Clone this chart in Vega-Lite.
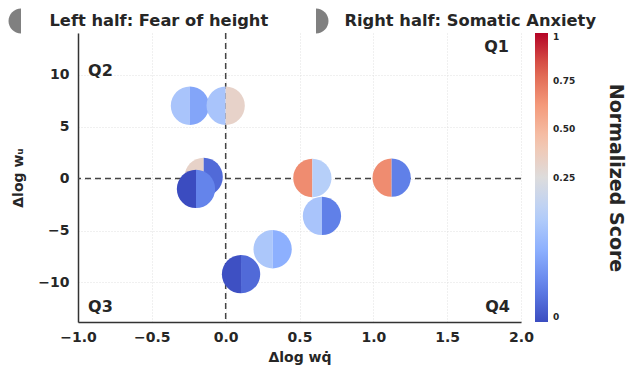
{
  "$schema": "https://vega.github.io/schema/vega-lite/v6.json",
  "width": 443,
  "height": 289,
  "autosize": {"type": "none"},
  "padding": {"left": 78, "top": 33, "right": 106, "bottom": 46},
  "background": "white",
  "config": {
    "view": {"stroke": null},
    "font": "DejaVu Sans",
    "axis": {
      "labelFont": "DejaVu Sans",
      "labelFontSize": 14,
      "labelFontWeight": "bold",
      "labelColor": "#262626",
      "labelFlush": false,
      "titleFont": "DejaVu Sans",
      "titleFontSize": 14,
      "titleFontWeight": "bold",
      "titleColor": "#262626",
      "domainColor": "#333333",
      "domainWidth": 1.5,
      "ticks": false,
      "tickSize": 0,
      "grid": true,
      "gridColor": "#d9d9d9",
      "gridDash": [1, 2],
      "gridWidth": 0.8
    }
  },
  "layer": [
    {
      "data": {"values": [{"x": 0}]},
      "mark": {"type": "rule", "color": "#444444", "strokeDash": [6, 4], "strokeWidth": 1.5},
      "encoding": {"x": {"field": "x", "type": "quantitative", "title": "Δlog wq̇"}}
    },
    {
      "data": {"values": [{"y": 0}]},
      "mark": {"type": "rule", "color": "#444444", "strokeDash": [6, 4], "strokeWidth": 1.5},
      "encoding": {"y": {"field": "y", "type": "quantitative", "title": "Δlog wᵤ"}}
    },
    {
      "data": {
        "values": [
          {"x": -0.242, "y": 7.0, "fear": 0.165, "somatic": 0.11},
          {"x": 0.0, "y": 7.0, "fear": 0.165, "somatic": 0.325},
          {"x": -0.149, "y": 0.15, "fear": 0.33, "somatic": 0.035},
          {"x": -0.201, "y": -1.0, "fear": 0.0, "somatic": 0.065},
          {"x": 0.587, "y": 0.05, "fear": 0.67, "somatic": 0.185},
          {"x": 0.652, "y": -3.6, "fear": 0.165, "somatic": 0.06},
          {"x": 1.124, "y": 0.08, "fear": 0.67, "somatic": 0.06},
          {"x": 0.318, "y": -6.8, "fear": 0.17, "somatic": 0.125},
          {"x": 0.104, "y": -9.2, "fear": 0.005, "somatic": 0.035}
        ]
      },
      "transform": [{"fold": ["fear", "somatic"], "as": ["half", "score"]}],
      "mark": {"type": "point", "filled": true, "opacity": 1, "size": 1467, "strokeWidth": 0},
      "encoding": {
        "x": {
          "field": "x",
          "type": "quantitative",
          "title": "Δlog wq̇",
          "scale": {"domain": [-1, 2], "nice": false, "zero": false},
          "axis": {"values": [-1, -0.5, 0, 0.5, 1, 1.5, 2], "format": ".1f", "labelPadding": 8, "titlePadding": 6}
        },
        "y": {
          "field": "y",
          "type": "quantitative",
          "title": "Δlog wᵤ",
          "scale": {"domain": [-13.8, 14], "nice": false, "zero": false},
          "axis": {"values": [-10, -5, 0, 5, 10], "labelPadding": 9, "titlePadding": 12}
        },
        "shape": {
          "field": "half",
          "type": "nominal",
          "scale": {
            "domain": ["fear", "somatic"],
            "range": [
              "M0,-1C-0.5523,-1,-1,-0.5523,-1,0C-1,0.5523,-0.5523,1,0,1Z",
              "M0,-1C0.5523,-1,1,-0.5523,1,0C1,0.5523,0.5523,1,0,1Z"
            ]
          },
          "legend": {
            "orient": "none",
            "direction": "horizontal",
            "legendX": -69.5,
            "legendY": -24.5,
            "padding": 0,
            "title": null,
            "symbolSize": 625,
            "symbolFillColor": "#808080",
            "symbolStrokeWidth": 0,
            "symbolOpacity": 1,
            "labelFont": "DejaVu Sans",
            "labelFontSize": 16.3,
            "labelFontWeight": "bold",
            "labelColor": "#262626",
            "labelOffset": 16,
            "columnPadding": 35,
            "labelLimit": 400,
            "labelExpr": "datum.label == 'fear' ? 'Left half: Fear of height' : 'Right half: Somatic Anxiety'"
          }
        },
        "fill": {
          "field": "score",
          "type": "quantitative",
          "scale": {
            "domain": [0, 0.0625, 0.125, 0.1875, 0.25, 0.4375, 0.625, 0.8125, 1],
            "range": ["#3b4cc0", "#6282ea", "#8db0fe", "#b8d0f9", "#dddcdc", "#f5c4ad", "#f49a7b", "#de604d", "#b40426"],
            "interpolate": "rgb"
          },
          "legend": null
        },
        "stroke": {
          "field": "score",
          "type": "quantitative",
          "scale": {
            "domain": [0, 0.125, 0.25, 0.375, 0.5, 0.625, 0.75, 0.875, 1],
            "range": ["#3b4cc0", "#6282ea", "#8db0fe", "#b8d0f9", "#dddcdc", "#f5c4ad", "#f49a7b", "#de604d", "#b40426"],
            "interpolate": "rgb"
          },
          "legend": {
            "orient": "none",
            "direction": "vertical",
            "legendX": 457,
            "legendY": 0,
            "padding": 0,
            "gradientLength": 289,
            "gradientThickness": 13,
            "gradientStrokeWidth": 0,
            "values": [0, 0.5, 0.666667, 0.833333, 1],
            "labelExpr": "datum.value < 0.01 ? '0' : datum.value > 0.99 ? '1' : format(datum.value <= 0.5 ? datum.value / 2 : 0.25 + (datum.value - 0.5) * 1.5, '.2f')",
            "labelFont": "DejaVu Sans",
            "labelFontSize": 9,
            "labelFontWeight": "bold",
            "labelColor": "#262626",
            "labelOffset": 5,
            "labelBaseline": "middle",
            "labelOverlap": false,
            "title": "Normalized Score",
            "titleLimit": 400,
            "titleOrient": "right",
            "titleAngle": 270,
            "titleAnchor": "middle",
            "titleFont": "DejaVu Sans",
            "titleFontSize": 19,
            "titleFontWeight": "bold",
            "titleColor": "#262626",
            "titlePadding": 31
          }
        }
      }
    },
    {
      "data": {
        "values": [
          {"label": "Q1", "x": 1.834, "y": 12.64},
          {"label": "Q2", "x": -0.848, "y": 10.34},
          {"label": "Q3", "x": -0.848, "y": -12.36},
          {"label": "Q4", "x": 1.841, "y": -12.36}
        ]
      },
      "mark": {"type": "text", "font": "DejaVu Sans", "fontSize": 16, "fontWeight": "bold", "color": "#262626", "baseline": "middle", "align": "center"},
      "encoding": {
        "x": {"field": "x", "type": "quantitative"},
        "y": {"field": "y", "type": "quantitative"},
        "text": {"field": "label"}
      }
    }
  ]
}
